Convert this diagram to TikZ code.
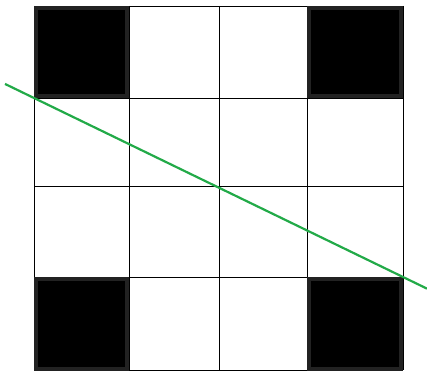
\documentclass[tikz,border=0pt]{standalone}
\usetikzlibrary{calc}
\definecolor{cutcol}{RGB}{34,170,72}
\definecolor{rimcol}{RGB}{34,34,34}

\begin{document}
\begin{tikzpicture}[
  x=1pt, y=-1pt,
  gridln/.style  = {draw=black, line width=0.8pt},
  blackc/.style  = {fill=black, draw=rimcol, line width=4pt},
  cutln/.style   = {draw=cutcol, line width=2.2pt},
]
\useasboundingbox (0,0) rectangle (427,371);

% ---------- grid lines ----------
\foreach \gx in {34,129,219,307,403}
  \draw[gridln] (\gx,6) -- (\gx,370);
\foreach \gy in {6,98,186,277,370}
  \draw[gridln] (34,\gy) -- (403,\gy);

% ---------- black corner cells ----------
\draw[blackc] (36,8)   rectangle (127,96);    % top left
\draw[blackc] (309,8)  rectangle (401,96);    % top right
\draw[blackc] (36,279) rectangle (127,369);   % bottom left
\draw[blackc] (309,279) rectangle (401,369);  % bottom right

% ---------- green cut through the two corners ----------
\coordinate (cutA) at (34,98);
\coordinate (cutB) at (403,277);
\draw[cutln] ($(cutA)!-0.0786!(cutB)$) -- ($(cutA)!1.065!(cutB)$);

\end{tikzpicture}
\end{document}
